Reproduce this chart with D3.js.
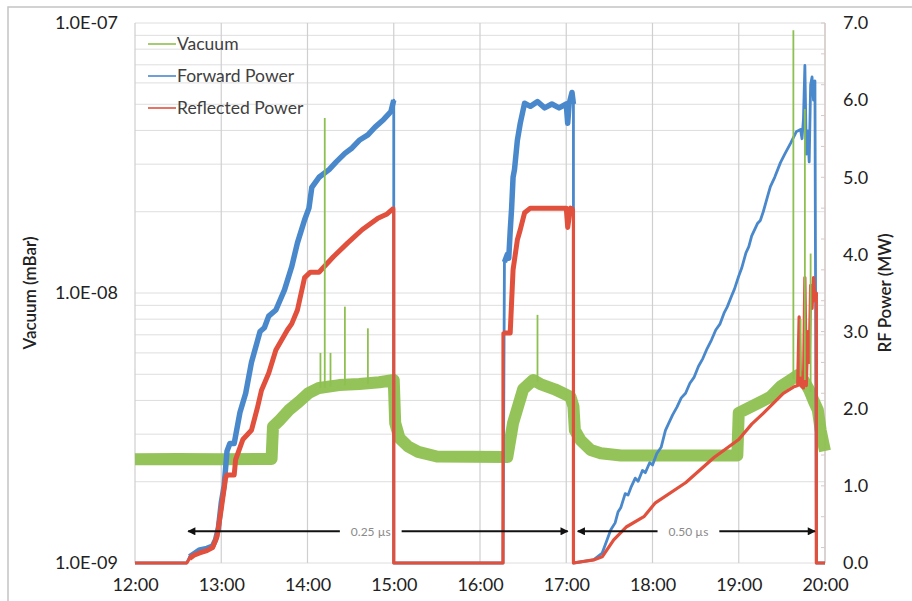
<!DOCTYPE html>
<html><head><meta charset="utf-8">
<script src="https://cdn.jsdelivr.net/npm/d3@7"></script>
<style>body{margin:0;background:#fff}svg{display:block}</style>
</head><body>
<svg id="chart" width="912" height="601"></svg>
<script>
// ---------- DATA ----------
const timeTicks = ["12:00","13:00","14:00","15:00","16:00","17:00","18:00","19:00","20:00"];
const vacuumTicks = [1e-9, 1e-8, 1e-7];
const powerTicks = [0,1,2,3,4,5,6,7];
const seriesNames = ["Vacuum","Forward Power","Reflected Power"];

// Vacuum (mBar), [time, value]
const vacuum = [
 ["12:00",2.42e-9],["12:30",2.43e-9],["13:00",2.42e-9],["13:35",2.43e-9],
 ["13:36",3.2e-9],["13:40",3.35e-9],["13:47",3.68e-9],["13:54",3.95e-9],["14:01",4.27e-9],
 ["14:08",4.45e-9],["14:22",4.56e-9],["14:36",4.6e-9],["14:50",4.67e-9],["15:00",4.76e-9],
 ["15:01",3.3e-9],["15:04",2.9e-9],["15:10",2.7e-9],["15:17",2.58e-9],["15:30",2.48e-9],
 ["16:19",2.47e-9],["16:23",3.3e-9],["16:30",4.4e-9],["16:37",4.76e-9],["16:42",4.6e-9],
 ["16:52",4.4e-9],["17:03",4.12e-9],["17:05",3.8e-9],["17:06",3.1e-9],["17:10",2.85e-9],
 ["17:17",2.62e-9],["17:24",2.55e-9],["17:38",2.5e-9],["18:59",2.5e-9],["19:00",3.6e-9],
 ["19:08",3.78e-9],["19:22",4.12e-9],["19:29",4.5e-9],["19:36",4.76e-9],["19:41",4.96e-9],
 ["19:45",4.76e-9],["19:49",4.37e-9],["19:52",4.0e-9],["19:55",3.69e-9],["19:57",3.1e-9],
 ["19:59",2.75e-9],["20:00",2.6e-9]
];
// Vacuum spikes: [time, base, peak]
const vacuumSpikes = [
 ["14:09",4.45e-9,6.0e-9],["14:12",4.45e-9,4.45e-8],["14:16",4.5e-9,6.0e-9],
 ["14:26",4.55e-9,8.9e-9],["14:42",4.6e-9,7.4e-9],["16:40",4.7e-9,8.3e-9],
 ["19:38",4.8e-9,9.4e-8],["19:43",4.9e-9,8.0e-9],["19:46",4.76e-9,4.8e-8],["19:50",4.3e-9,1.4e-8]
];
// Forward power (MW)
const forwardPower = [
 ["12:00",0],["12:36",0],["12:38",0.08],["12:41",0.12],["12:45",0.17],["12:50",0.19],["12:54",0.22],
 ["12:56",0.3],["12:58",0.45],["13:00",0.78],["13:02",1.0],["13:04",1.45],["13:06",1.55],["13:09",1.55],
 ["13:13",1.95],["13:17",2.2],["13:21",2.6],["13:24",2.8],["13:27",3.0],["13:30",3.05],["13:33",3.2],
 ["13:38",3.28],["13:44",3.54],["13:49",3.84],["13:53",4.15],["13:58",4.45],["14:01",4.6],["14:03",4.87],
 ["14:08",5.0],["14:15",5.1],["14:20",5.2],["14:26",5.31],["14:31",5.38],["14:36",5.48],["14:42",5.55],
 ["14:47",5.65],["14:53",5.75],["14:58",5.85],["15:00",6.0],["15:00",0],
 ["16:16",0],["16:17",3.9],["16:19",4.0],["16:20",3.95],["16:21",4.3],["16:22",4.6],["16:23",5.0],
 ["16:24",5.1],["16:26",5.48],["16:28",5.7],["16:31",5.96],["16:35",5.92],["16:40",5.98],["16:45",5.9],
 ["16:50",5.95],["16:55",5.9],["17:00",5.95],["17:01",5.7],["17:02",5.95],["17:04",6.1],["17:05",5.95],["17:05",0],
 ["17:19",0.04],["17:25",0.13],["17:31",0.43],["17:34",0.52],["17:36",0.66],["17:38",0.72],["17:41",0.9],
 ["17:43",0.88],["17:45",0.98],["17:48",1.1],["17:50",1.06],["17:53",1.2],["17:55",1.17],["17:58",1.3],
 ["18:00",1.27],["18:03",1.42],["18:06",1.5],["18:09",1.72],["18:11",1.8],["18:14",1.92],["18:17",2.02],
 ["18:20",2.14],["18:23",2.2],["18:26",2.33],["18:29",2.41],["18:32",2.55],["18:35",2.65],["18:38",2.78],
 ["18:41",2.89],["18:44",3.02],["18:47",3.1],["18:50",3.25],["18:52",3.32],["18:55",3.46],["18:57",3.55],
 ["19:00",3.72],["19:02",3.82],["19:05",4.02],["19:07",4.1],["19:09",4.24],["19:13",4.4],["19:15",4.44],
 ["19:17",4.55],["19:20",4.75],["19:22",4.88],["19:25",5.0],["19:29",5.19],["19:32",5.3],["19:36",5.44],
 ["19:40",5.59],["19:43",5.62],["19:44",5.5],["19:45",5.75],["19:46",6.45],
 ["19:47",5.3],["19:48",5.6],["19:49",5.2],["19:50",6.2],["19:51",6.3],["19:52",6.0],["19:53",6.25],
 ["19:54",0],["20:00",0]
];
// Reflected power (MW)
const reflectedPower = [
 ["12:00",0],["12:36",0],["12:38",0.06],["12:41",0.1],["12:45",0.13],["12:50",0.16],["12:54",0.2],
 ["12:57",0.34],["13:00",0.7],["13:03",1.1],["13:04",1.14],["13:09",1.14],["13:10",1.34],["13:15",1.6],
 ["13:21",1.72],["13:25",2.0],["13:28",2.24],["13:33",2.46],["13:38",2.76],["13:46",3.02],["13:49",3.1],
 ["13:53",3.28],["13:58",3.7],["14:02",3.77],["14:08",3.77],["14:18",3.97],["14:28",4.15],["14:38",4.32],
 ["14:49",4.47],["14:55",4.52],["15:00",4.6],["15:00",0],
 ["16:16",0],["16:16",2.98],["16:21",2.98],["16:23",3.8],["16:26",4.19],["16:28",4.32],["16:31",4.54],
 ["16:35",4.6],["16:45",4.6],["16:55",4.6],["17:00",4.6],["17:01",4.35],["17:03",4.6],["17:05",4.58],["17:05",0],
 ["17:19",0.04],["17:25",0.08],["17:33",0.3],["17:42",0.47],["17:54",0.6],["18:02",0.78],["18:23",1.04],
 ["18:43",1.37],["19:00",1.6],["19:09",1.8],["19:17",1.94],["19:31",2.2],["19:38",2.28],["19:41",2.3],
 ["19:42",3.19],["19:43",2.3],["19:45",2.27],["19:46",3.7],["19:47",2.3],["19:48",3.0],["19:49",2.6],
 ["19:50",3.6],["19:51",3.3],["19:52",3.7],["19:53",3.4],["19:54",3.5],["19:54",0],["20:00",0]
];
// Pulse-length annotations: [from, to, label time, label]
const spans = [
 ["12:37","17:01","14:44","0.25 µs"],
 ["17:08","19:53","18:25","0.50 µs"]
];
const spanLevel = 0.41; // MW

// ---------- CHART ----------
const parse = d3.timeParse("%H:%M");
const svg = d3.select("#chart");
const L = 135, R = 825, T = 23, B = 563;
const x = d3.scaleTime().domain([parse("12:00"), parse("20:00")]).range([L, R]);
const yL = d3.scaleLog().domain([1e-9, 1e-7]).range([B, T]);
const yR = d3.scaleLinear().domain([0, 7]).range([B, T]);
const C = {vac:"#8dc050", fwd:"#4a88cc", ref:"#e0503c"};
const font = "Lato, 'Open Sans', sans-serif";

// frame
svg.append("rect").attr("x",8).attr("y",7).attr("width",940).attr("height",640)
  .attr("fill","none").attr("stroke","#c4c4c4").attr("stroke-width",1.5);

// grid
const logGrid = [];
[1e-9,1e-8].forEach(dec => { for (let k=1;k<10;k++) logGrid.push(k*dec); });
logGrid.push(1e-7);
svg.append("g").selectAll("line").data(logGrid).join("line")
  .attr("x1",L).attr("x2",R).attr("y1",d=>yL(d)).attr("y2",d=>yL(d))
  .attr("stroke","#dedede").attr("stroke-width",1);
svg.append("g").selectAll("line").data(timeTicks.map(parse)).join("line")
  .attr("x1",d=>x(d)).attr("x2",d=>x(d)).attr("y1",T).attr("y2",B)
  .attr("stroke","#cfcfcf").attr("stroke-width",1.2);
// right axis line + minor ticks
svg.append("line").attr("x1",R).attr("x2",R).attr("y1",T).attr("y2",B).attr("stroke","#d8c8c8").attr("stroke-width",1.2);
svg.append("g").selectAll("line").data(d3.range(0.2,7.01,0.4)).join("line")
  .attr("x1",R-4).attr("x2",R).attr("y1",d=>yR(d)).attr("y2",d=>yR(d)).attr("stroke","#d8c8c8");

// axes
const xAxis = svg.append("g").attr("transform",`translate(0,${B})`)
  .call(d3.axisBottom(x).tickValues(timeTicks.map(parse)).tickFormat(d3.timeFormat("%H:%M")).tickSize(0).tickPadding(15));
const expFmt = d => { const e = Math.round(Math.log10(d)); return "1.0E" + (e<0?"-":"+") + String(Math.abs(e)).padStart(2,"0"); };
const yAxisL = svg.append("g").attr("transform",`translate(${L},0)`)
  .call(d3.axisLeft(yL).tickValues(vacuumTicks).tickFormat(expFmt).tickSize(0).tickPadding(17));
const yAxisR = svg.append("g").attr("transform",`translate(${R},0)`)
  .call(d3.axisRight(yR).tickValues(powerTicks).tickFormat(d3.format(".1f")).tickSize(0).tickPadding(18));
[xAxis,yAxisL,yAxisR].forEach(g => {
  g.select(".domain").remove();
  g.selectAll("text").attr("font-family",font).attr("font-size",18).attr("fill","#222");
});

// axis titles
svg.append("text").attr("transform",`translate(36,${(T+B)/2}) rotate(-90)`).attr("text-anchor","middle")
  .attr("font-family",font).attr("font-size",17).attr("font-weight",600).attr("fill","#222").text("Vacuum (mBar)");
svg.append("text").attr("transform",`translate(891,${(T+B)/2}) rotate(-90)`).attr("text-anchor","middle")
  .attr("font-family",font).attr("font-size",17).attr("font-weight",600).attr("fill","#222").text("RF Power (MW)");

// series
const vacLine = d3.line().x(d=>x(parse(d[0]))).y(d=>yL(d[1]));
svg.append("path").datum(vacuum).attr("d",vacLine).attr("fill","none")
  .attr("stroke",C.vac).attr("stroke-width",12).attr("stroke-linejoin","round").attr("opacity",0.95);

const pLine = d3.line().x(d=>x(parse(d[0]))).y(d=>yR(d[1]));
const early = d => parse(d[0]) < parse("17:06") && d[1] > 0;
const pLineEarly = d3.line().defined(early).x(d=>x(parse(d[0]))).y(d=>yR(d[1]));

svg.append("path").datum(forwardPower).attr("d",pLine).attr("fill","none")
  .attr("stroke",C.fwd).attr("stroke-width",2.8).attr("stroke-linejoin","round");
svg.append("path").datum(forwardPower).attr("d",pLineEarly).attr("fill","none")
  .attr("stroke",C.fwd).attr("stroke-width",5.5).attr("stroke-linejoin","round");

svg.append("path").datum(reflectedPower).attr("d",pLine).attr("fill","none")
  .attr("stroke",C.ref).attr("stroke-width",3.2).attr("stroke-linejoin","round");
svg.append("path").datum(reflectedPower).attr("d",pLineEarly).attr("fill","none")
  .attr("stroke",C.ref).attr("stroke-width",5).attr("stroke-linejoin","round");

// spikes
svg.append("g").selectAll("line").data(vacuumSpikes).join("line")
  .attr("x1",d=>x(parse(d[0]))).attr("x2",d=>x(parse(d[0])))
  .attr("y1",d=>yL(d[1])).attr("y2",d=>yL(d[2]))
  .attr("stroke",C.vac).attr("stroke-width",1.8);

// annotations
const defs = svg.append("defs");
defs.append("marker").attr("id","ah").attr("viewBox","0 0 10 10").attr("refX",9).attr("refY",5)
  .attr("markerWidth",4.5).attr("markerHeight",4).attr("orient","auto-start-reverse")
  .append("path").attr("d","M0,0L10,5L0,10Z").attr("fill","#111");
const ya = yR(spanLevel);
spans.forEach(s => {
  const x0 = x(parse(s[0])), x1 = x(parse(s[1])), xm = x(parse(s[2]));
  const t = svg.append("text").attr("x",xm).attr("y",ya).attr("dy","0.35em").attr("text-anchor","middle")
    .attr("font-family",font).attr("font-size",12).attr("fill","#8a8a8a").text(s[3]);
  const w = t.node().getComputedTextLength();
  svg.append("line").attr("x1",xm-w/2-11).attr("x2",x0).attr("y1",ya).attr("y2",ya)
    .attr("stroke","#111").attr("stroke-width",2).attr("marker-end","url(#ah)");
  svg.append("line").attr("x1",xm+w/2+11).attr("x2",x1).attr("y1",ya).attr("y2",ya)
    .attr("stroke","#111").attr("stroke-width",2).attr("marker-end","url(#ah)");
});

// legend
const lg = svg.append("g").attr("transform","translate(148,44)");
[C.vac,C.fwd,C.ref].forEach((c,i) => {
  const g = lg.append("g").attr("transform",`translate(0,${i*32})`);
  g.append("line").attr("x1",0).attr("x2",28).attr("stroke",c).attr("stroke-width",1.6);
  g.append("text").attr("x",29).attr("dy","0.35em").attr("font-family",font).attr("font-size",17.5)
    .attr("fill","#404040").text(seriesNames[i]);
});
</script>
</body></html>
